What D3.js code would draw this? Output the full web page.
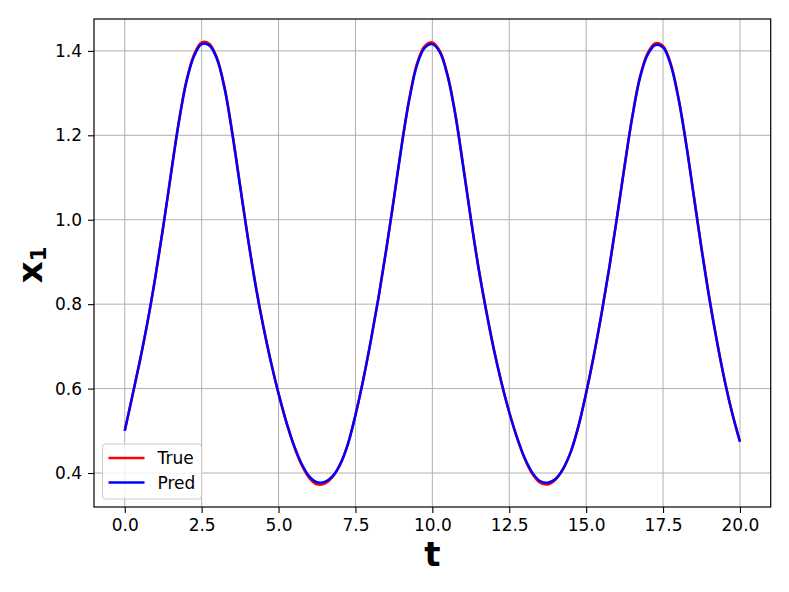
<!DOCTYPE html>
<html>
<head>
<meta charset="utf-8">
<script src="https://cdn.jsdelivr.net/npm/d3@7"></script>
<style>
  body { margin: 0; background: #fff; }
  text { font-family: "DejaVu Sans", sans-serif; }
</style>
</head>
<body>
<div id="chart"></div>
<script>
// time samples
const tValues = [
  0.00, 0.25, 0.50, 0.75, 1.00, 1.25, 1.50, 1.75, 2.00, 2.25, 2.50, 2.75, 3.00, 3.25, 3.50, 3.75,
  4.00, 4.25, 4.50, 4.75, 5.00, 5.25, 5.50, 5.75, 6.00, 6.25, 6.50, 6.75, 7.00, 7.25, 7.50, 7.75,
  8.00, 8.25, 8.50, 8.75, 9.00, 9.25, 9.50, 9.75, 10.00, 10.25, 10.50, 10.75, 11.00, 11.25, 11.50, 11.75,
  12.00, 12.25, 12.50, 12.75, 13.00, 13.25, 13.50, 13.75, 14.00, 14.25, 14.50, 14.75, 15.00, 15.25, 15.50, 15.75,
  16.00, 16.25, 16.50, 16.75, 17.00, 17.25, 17.50, 17.75, 18.00, 18.25, 18.50, 18.75, 19.00, 19.25, 19.50, 19.75,
  20.00
];

// x1, true trajectory
const trueValues = [
  0.500, 0.583, 0.668, 0.761, 0.866, 0.983, 1.108, 1.229, 1.328, 1.391, 1.420, 1.417, 1.383, 1.312, 1.205, 1.082,
  0.960, 0.848, 0.750, 0.664, 0.588, 0.521, 0.464, 0.419, 0.388, 0.373, 0.375, 0.390, 0.420, 0.468, 0.538, 0.620,
  0.713, 0.815, 0.928, 1.050, 1.176, 1.287, 1.370, 1.411, 1.420, 1.399, 1.342, 1.250, 1.130, 1.005, 0.888, 0.786,
  0.694, 0.614, 0.544, 0.484, 0.434, 0.398, 0.377, 0.373, 0.384, 0.409, 0.450, 0.511, 0.589, 0.678, 0.776, 0.885,
  1.004, 1.128, 1.245, 1.339, 1.395, 1.418, 1.412, 1.370, 1.290, 1.182, 1.058, 0.934, 0.818, 0.714, 0.621, 0.542,
  0.475
];

// x1, predicted trajectory
const predValues = [
  0.500, 0.584, 0.669, 0.762, 0.867, 0.983, 1.107, 1.227, 1.325, 1.387, 1.416, 1.413, 1.380, 1.309, 1.202, 1.079,
  0.957, 0.845, 0.748, 0.663, 0.588, 0.522, 0.466, 0.422, 0.392, 0.378, 0.379, 0.392, 0.420, 0.467, 0.537, 0.620,
  0.714, 0.816, 0.929, 1.050, 1.174, 1.284, 1.366, 1.407, 1.416, 1.396, 1.339, 1.247, 1.127, 1.002, 0.885, 0.784,
  0.692, 0.613, 0.544, 0.485, 0.436, 0.401, 0.381, 0.377, 0.386, 0.410, 0.450, 0.511, 0.590, 0.679, 0.778, 0.886,
  1.004, 1.127, 1.243, 1.336, 1.391, 1.414, 1.408, 1.367, 1.287, 1.179, 1.055, 0.931, 0.815, 0.712, 0.620, 0.541,
  0.474
];

const xTicks = [0, 2.5, 5, 7.5, 10, 12.5, 15, 17.5, 20];
const yTicks = [0.4, 0.6, 0.8, 1.0, 1.2, 1.4];

const seriesNames = ["True", "Pred"];
const seriesColors = ["#ff0000", "#0000ff"];

// figure layout
const W = 789, H = 592;
const margin = {top: 19, right: 18.3, bottom: 85, left: 94};
const width = W - margin.left - margin.right;
const height = H - margin.top - margin.bottom;

const svg = d3.select("#chart")
    .append("svg")
    .attr("width", W)
    .attr("height", H);

const g = svg.append("g")
    .attr("transform", `translate(${margin.left},${margin.top})`);

const x = d3.scaleLinear().domain([-1, 21]).range([0, width]);
const y = d3.scaleLinear().domain([0.3195, 1.4755]).range([height, 0]);

// grid
g.append("g")
  .selectAll("line")
  .data(xTicks)
  .join("line")
    .attr("x1", d => x(d)).attr("x2", d => x(d))
    .attr("y1", 0).attr("y2", height)
    .attr("stroke", "#b0b0b0").attr("stroke-width", 1);

g.append("g")
  .selectAll("line")
  .data(yTicks)
  .join("line")
    .attr("x1", 0).attr("x2", width)
    .attr("y1", d => y(d)).attr("y2", d => y(d))
    .attr("stroke", "#b0b0b0").attr("stroke-width", 1);

// axes
const xAxis = g.append("g")
    .attr("transform", `translate(0,${height})`)
    .call(d3.axisBottom(x).tickValues(xTicks).tickFormat(d3.format(".1f")).tickSizeOuter(0).tickSize(6).tickPadding(6));

const yAxis = g.append("g")
    .call(d3.axisLeft(y).tickValues(yTicks).tickFormat(d3.format(".1f")).tickSizeOuter(0).tickSize(6).tickPadding(6));

[xAxis, yAxis].forEach(a => {
  a.select(".domain").remove();
  a.selectAll(".tick line").attr("stroke", "#000").attr("stroke-width", 1.1);
  a.selectAll("text")
      .attr("font-family", "DejaVu Sans, sans-serif")
      .attr("font-size", 17)
      .attr("fill", "#000");
});

// lines
const points = vals => tValues.map((t, i) => [t, vals[i]]);
const line = d3.line()
    .x(d => x(d[0]))
    .y(d => y(d[1]))
    .curve(d3.curveCatmullRom.alpha(0.5));

[trueValues, predValues].forEach((vals, i) => {
  g.append("path")
      .datum(points(vals))
      .attr("fill", "none")
      .attr("stroke", seriesColors[i])
      .attr("stroke-width", 2.5)
      .attr("stroke-linejoin", "round")
      .attr("d", line);
});

// frame
g.append("rect")
    .attr("width", width).attr("height", height)
    .attr("fill", "none")
    .attr("stroke", "#000")
    .attr("stroke-width", 1.2);

// axis labels
svg.append("text")
    .attr("x", margin.left + width / 2)
    .attr("y", 566)
    .attr("text-anchor", "middle")
    .attr("font-size", 34)
    .attr("font-weight", "bold")
    .text("t");

const yl = svg.append("text")
    .attr("transform", "translate(42,265) rotate(-90)")
    .attr("text-anchor", "middle")
    .attr("font-size", 34)
    .attr("font-weight", "bold");
yl.append("tspan").text("x");
yl.append("tspan").attr("font-size", 21).attr("dy", 4).text("1");

// legend
const legend = svg.append("g").attr("transform", "translate(102.5,444)");
legend.append("rect")
    .attr("width", 99).attr("height", 55)
    .attr("rx", 3)
    .attr("fill", "#fff").attr("fill-opacity", 0.8)
    .attr("stroke", "#cccccc").attr("stroke-width", 1);

seriesNames.forEach((name, i) => {
  legend.append("line")
      .attr("x1", 6).attr("x2", 42)
      .attr("y1", 14 + i * 24.5).attr("y2", 14 + i * 24.5)
      .attr("stroke", seriesColors[i]).attr("stroke-width", 2.5);
  legend.append("text")
      .attr("x", 55)
      .attr("y", 14 + i * 24.5)
      .attr("dy", "0.36em")
      .attr("font-size", 17)
      .text(name);
});
</script>
</body>
</html>
